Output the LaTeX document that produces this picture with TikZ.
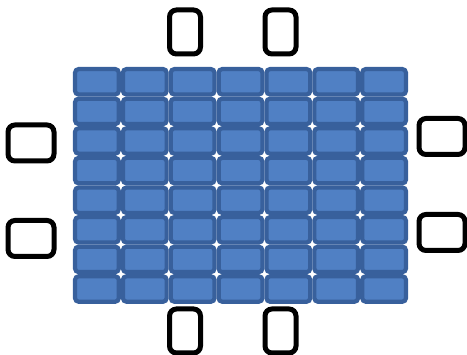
\documentclass[tikz,border=0pt]{standalone}
\definecolor{cellfill}{RGB}{80,128,196}
\definecolor{celledge}{RGB}{56,96,156}
\begin{document}
\begin{tikzpicture}[x=1pt,y=-1pt,
  cell/.style={draw=celledge,fill=cellfill,line width=4.2pt,rounded corners=3.5pt,
    inner sep=0pt,minimum width=43.7pt,minimum height=25.4pt},
  portbox/.style={draw=black,fill=white,line width=5pt,rounded corners=7pt,inner sep=0pt},
  vbox/.style={portbox,minimum width=31pt,minimum height=44pt},
  hbox/.style={portbox,minimum width=46pt,minimum height=36pt}]
\useasboundingbox (0,0) rectangle (467,355);
\foreach \i in {0,...,6}{
  \foreach \j in {0,...,7}{
    \node[cell] (c\i\j) at ({73+47.857*(\i+0.5)},{67+29.6*(\j+0.5)}) {};
  }
}
\node[vbox] (t1) at (185,32) {};
\node[vbox] (t2) at (280.5,32) {};
\node[vbox] (b1) at (185,331) {};
\node[vbox] (b2) at (280.5,331) {};
\node[hbox] (l1) at (31,143) {};
\node[hbox] (l2) at (31,238.5) {};
\node[hbox] (r1) at (442,136.5) {};
\node[hbox] (r2) at (442,232.5) {};
\end{tikzpicture}
\end{document}
